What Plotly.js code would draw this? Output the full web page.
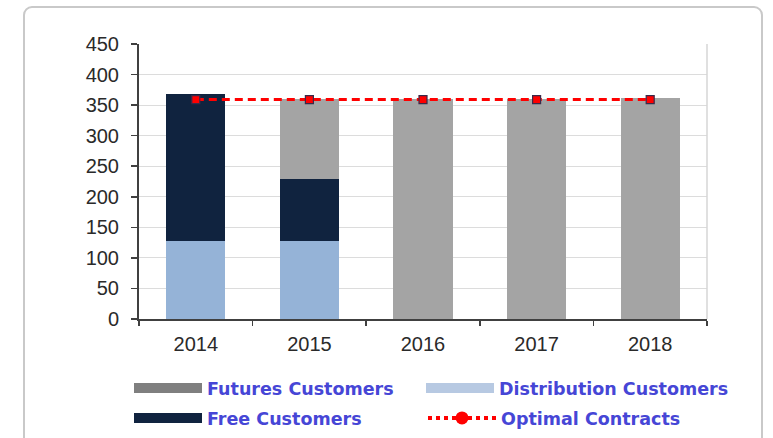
<!DOCTYPE html>
<html>
<head>
<meta charset="utf-8">
<script src="https://cdn.plot.ly/plotly-3.0.1.min.js"></script>
<style>
  html, body { margin: 0; padding: 0; background: #ffffff; overflow: hidden; }
  #frame { position: absolute; left: 23px; top: 6px; width: 740px; height: 470px;
           border: 2px solid #c9c9c9; border-radius: 9px; box-sizing: border-box; }
  #chart { position: absolute; left: 0; top: 0; width: 773px; height: 470px; }
</style>
</head>
<body>
<div id="frame"></div>
<div id="chart"></div>
<script>
// ---- data ----
var years = ['2014', '2015', '2016', '2017', '2018'];
var distributionCustomers = [128, 128, 0, 0, 0];
var freeCustomers = [240, 101, 0, 0, 0];
var futuresCustomers = [0, 131, 360, 360, 362];
var optimalContracts = [359, 359, 359, 359, 359];

var names = {
  futures: 'Futures Customers',
  distribution: 'Distribution Customers',
  free: 'Free Customers',
  optimal: 'Optimal Contracts'
};

var colDist = '#95b3d7', colFree = '#10233f', colFut = '#a4a4a4', colOpt = '#ff0000';

var traces = [
  { type: 'bar', x: years, y: distributionCustomers, name: names.distribution,
    marker: { color: colDist }, showlegend: false },
  { type: 'bar', x: years, y: freeCustomers, name: names.free,
    marker: { color: colFree }, showlegend: false },
  { type: 'bar', x: years, y: futuresCustomers, name: names.futures,
    marker: { color: colFut }, showlegend: false },
  { type: 'scatter', mode: 'lines+markers', x: years, y: optimalContracts, name: names.optimal,
    line: { color: colOpt, width: 3, dash: '8px,5px' },
    marker: { symbol: 'square', size: 8, color: colOpt, line: { color: '#3a2a4a', width: 1.2 } },
    showlegend: false },
  // legend entries
  { type: 'scatter', mode: 'lines', x: [null], y: [null], name: names.futures,
    line: { color: '#7f7f7f', width: 13 }, legend: 'legend', hoverinfo: 'skip' },
  { type: 'scatter', mode: 'lines', x: [null], y: [null], name: names.distribution,
    line: { color: '#b7c9e2', width: 13 }, legend: 'legend2', hoverinfo: 'skip' },
  { type: 'scatter', mode: 'lines', x: [null], y: [null], name: names.free,
    line: { color: colFree, width: 12 }, legend: 'legend3', hoverinfo: 'skip' },
  { type: 'scatter', mode: 'lines+markers', x: [null], y: [null], name: names.optimal,
    line: { color: colOpt, width: 4, dash: 'dot' },
    marker: { symbol: 'circle', size: 13, color: colOpt }, legend: 'legend4', hoverinfo: 'skip' }
];

var legFont = { family: 'DejaVu Sans', size: 17.5, color: '#4646d6', weight: 'bold' };
function leg(x, y) {
  return { x: x, y: y, xref: 'paper', yref: 'paper', xanchor: 'left', yanchor: 'middle',
           orientation: 'v', bgcolor: 'rgba(0,0,0,0)', borderwidth: 0, itemwidth: 68,
           font: legFont, itemclick: false, itemdoubleclick: false };
}

var layout = {
  width: 773, height: 470,
  margin: { l: 139, r: 66, t: 44, b: 151 },
  paper_bgcolor: 'rgba(0,0,0,0)',
  plot_bgcolor: '#ffffff',
  barmode: 'stack',
  bargap: 0.48,
  showlegend: true,
  font: { family: 'Liberation Sans, Arial, sans-serif', color: '#2a2a2a' },
  xaxis: {
    type: 'category',
    tickson: 'boundaries',
    ticks: 'outside', ticklen: 5, tickwidth: 1.5, tickcolor: '#404040',
    showline: true, linecolor: '#404040', linewidth: 2,
    showgrid: false, zeroline: false,
    tickfont: { size: 20, color: '#2a2a2a' },
    ticklabelstandoff: 6
  },
  yaxis: {
    range: [0, 450], dtick: 50, tick0: 0,
    ticks: 'outside', ticklen: 6, tickwidth: 1.5, tickcolor: '#404040',
    showline: true, linecolor: '#404040', linewidth: 2,
    showgrid: true, gridcolor: '#dcdcdc', gridwidth: 1.2,
    zeroline: false,
    tickfont: { size: 20, color: '#2a2a2a' },
    ticklabelstandoff: 8
  },
  shapes: [
    { type: 'line', xref: 'paper', yref: 'paper', x0: 1, x1: 1, y0: 0, y1: 1,
      line: { color: '#d6d6d6', width: 1.5 } }
  ],
  legend: leg(-0.0176, -0.251),
  legend2: leg(0.4965, -0.251),
  legend3: leg(-0.0176, -0.36),
  legend4: leg(0.500, -0.36)
};

Plotly.newPlot('chart', traces, layout, { staticPlot: true, displayModeBar: false });
</script>
</body>
</html>
